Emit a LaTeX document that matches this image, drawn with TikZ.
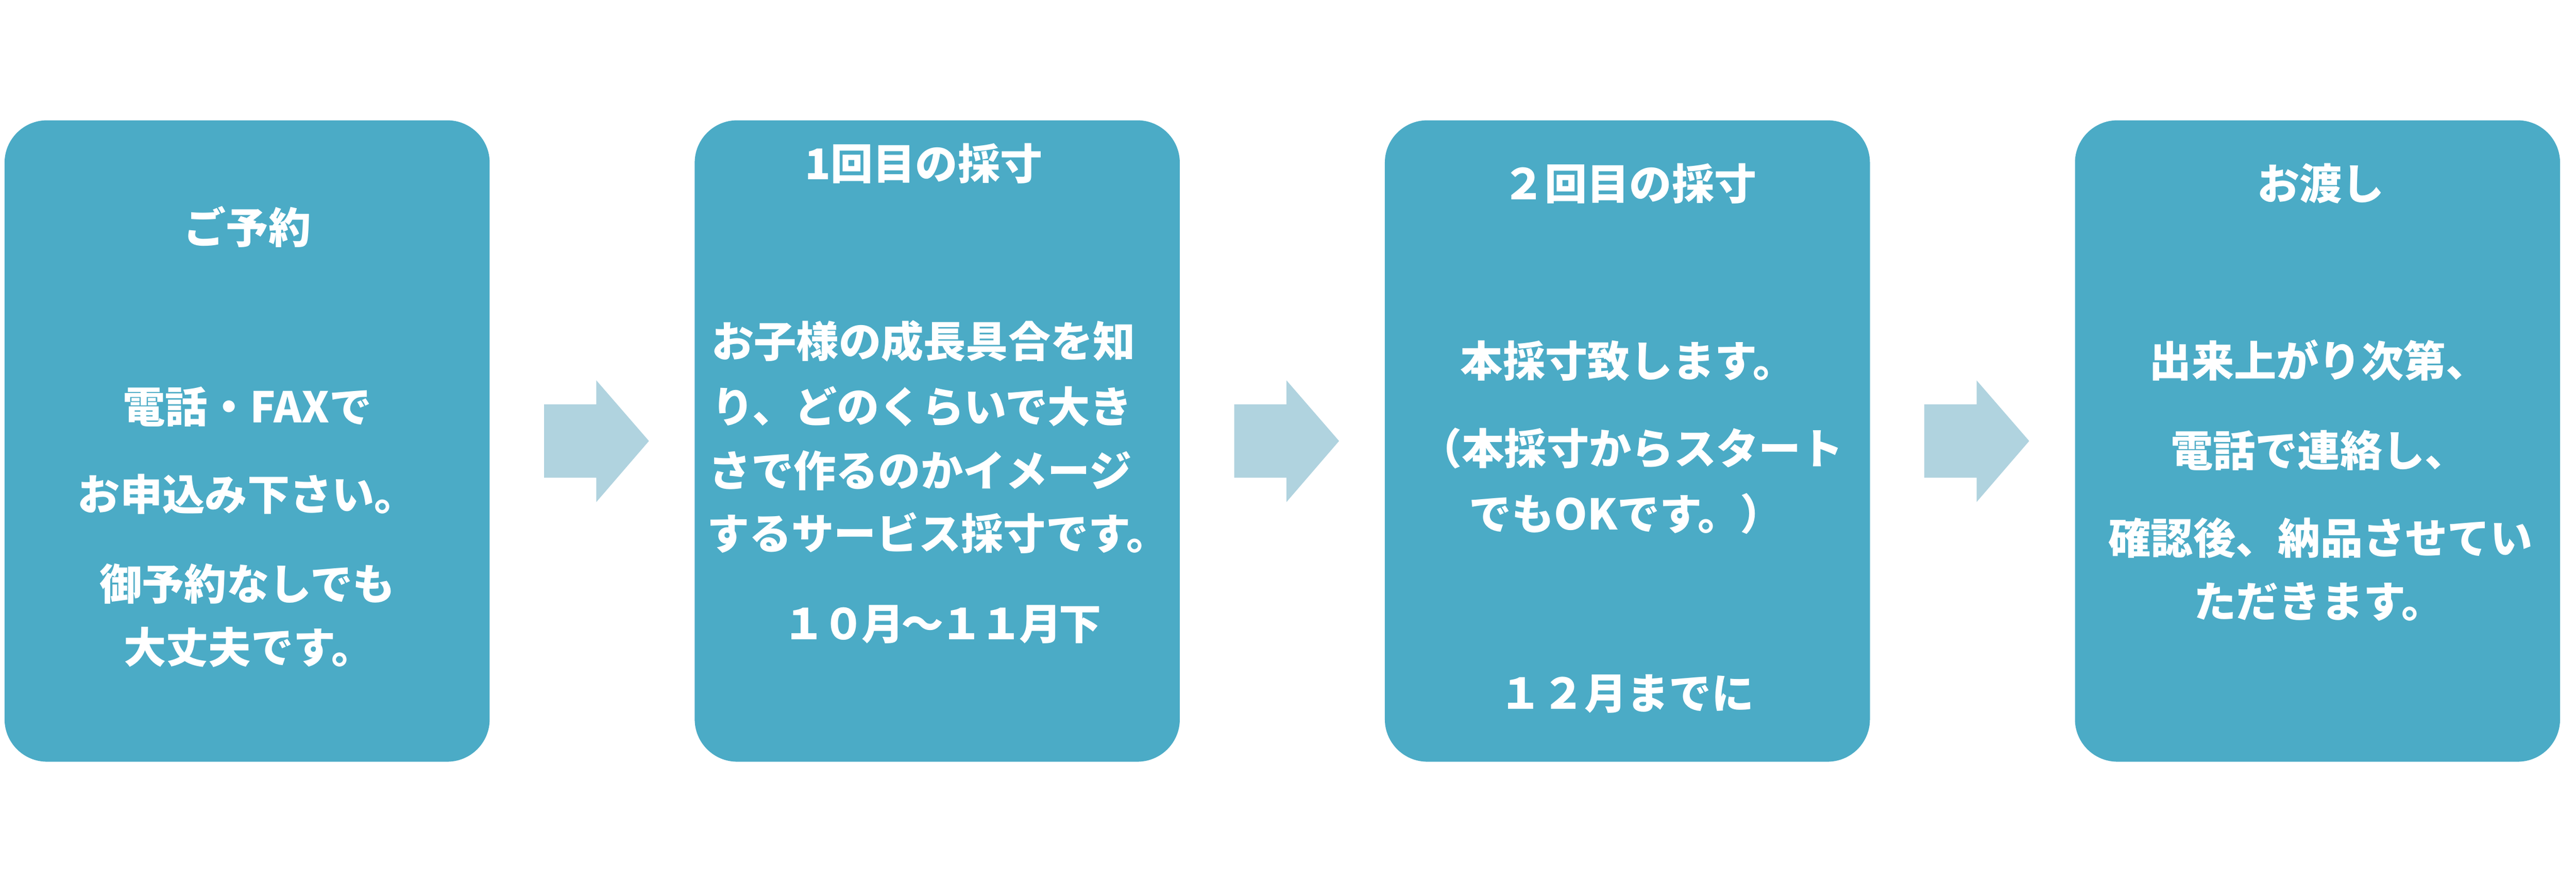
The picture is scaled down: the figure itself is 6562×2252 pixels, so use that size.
\documentclass[tikz,border=0pt]{standalone}
\usepackage{fontspec}
\usetikzlibrary{calc}
\newfontfamily\jpfont{Noto Sans CJK JP}
\definecolor{boxc}{HTML}{4BABC6}
\definecolor{arrc}{HTML}{B0D3DF}
\begin{document}
\begin{tikzpicture}[x=0.01cm,y=-0.01cm,
  box/.style={fill=boxc, draw=none, rounded corners=1.08cm, minimum width=12.35cm, minimum height=16.33cm, inner sep=0pt},
  txt/.style={text=white, font=\jpfont\bfseries\fontsize{30.7}{36}\selectfont, inner sep=0pt, text height=27pt, text depth=3.7pt},
  arr/.style={fill=arrc, draw=none}]
\useasboundingbox (0,0) rectangle (6562,2252);
% boxes
\node[box] (b1) at (629.5,1123.5) {};
\node[box] (b2) at (2387.5,1123.5) {};
\node[box] (b3) at (4145.5,1123.5) {};
\node[box] (b4) at (5903.5,1123.5) {};
% arrows
\foreach \a in {1,2,3}{
  \fill[arr] ($(b\a.east)+(138,-93.5)$) -- ++(133,0) -- ++(0,-61)
    -- ($(b\a.east)+(405,0)$) -- ($(b\a.east)+(271,155.5)$) -- ++(0,-62)
    -- ++(-133,0) -- cycle;
}
% box 1
\node[txt] (t11) at (630,579) {ご予約};
\node[txt] (t12) at (630,1036) {電話・FAXで};
\node[txt] (t13) at (630,1259) {お申込み下さい。};
\node[txt] (t14) at (630,1487) {御予約なしでも};
\node[txt] (t15) at (634,1649) {大丈夫です。};
% box 2
\node[txt] (t21) at (2353,417) {1回目の採寸};
\node[txt,anchor=west] (t22) at (1812,869) {お子様の成長具合を知};
\node[txt,anchor=west] (t23) at (1812,1036) {り、どのくらいで大き};
\node[txt,anchor=west] (t24) at (1805,1198) {さで作るのかイメージ};
\node[txt,anchor=west] (t25) at (1800,1359) {するサービス採寸です。};
\node[txt] (t26) at (2400,1588) {\addfontfeature{LetterSpace=-7}１０月～１１月下};
% box 3
\node[txt] (t31) at (4151,467) {２回目の採寸};
\node[txt] (t32) at (4147,919) {本採寸致します。};
\node[txt] (t33) at (4156,1142) {（本採寸からスタート};
\node[txt] (t34) at (4142,1309) {でもOKです。）};
\node[txt] (t35) at (4144,1766) {１２月までに};
% box 4
\node[txt] (t41) at (5912,468) {お渡し};
\node[txt] (t42) at (5907,919) {出来上がり次第、};
\node[txt] (t43) at (5907,1148) {電話で連絡し、};
\node[txt] (t44) at (5911,1370) {確認後、納品させてい};
\node[txt] (t45) at (5907,1532) {ただきます。};
\end{tikzpicture}
\end{document}
